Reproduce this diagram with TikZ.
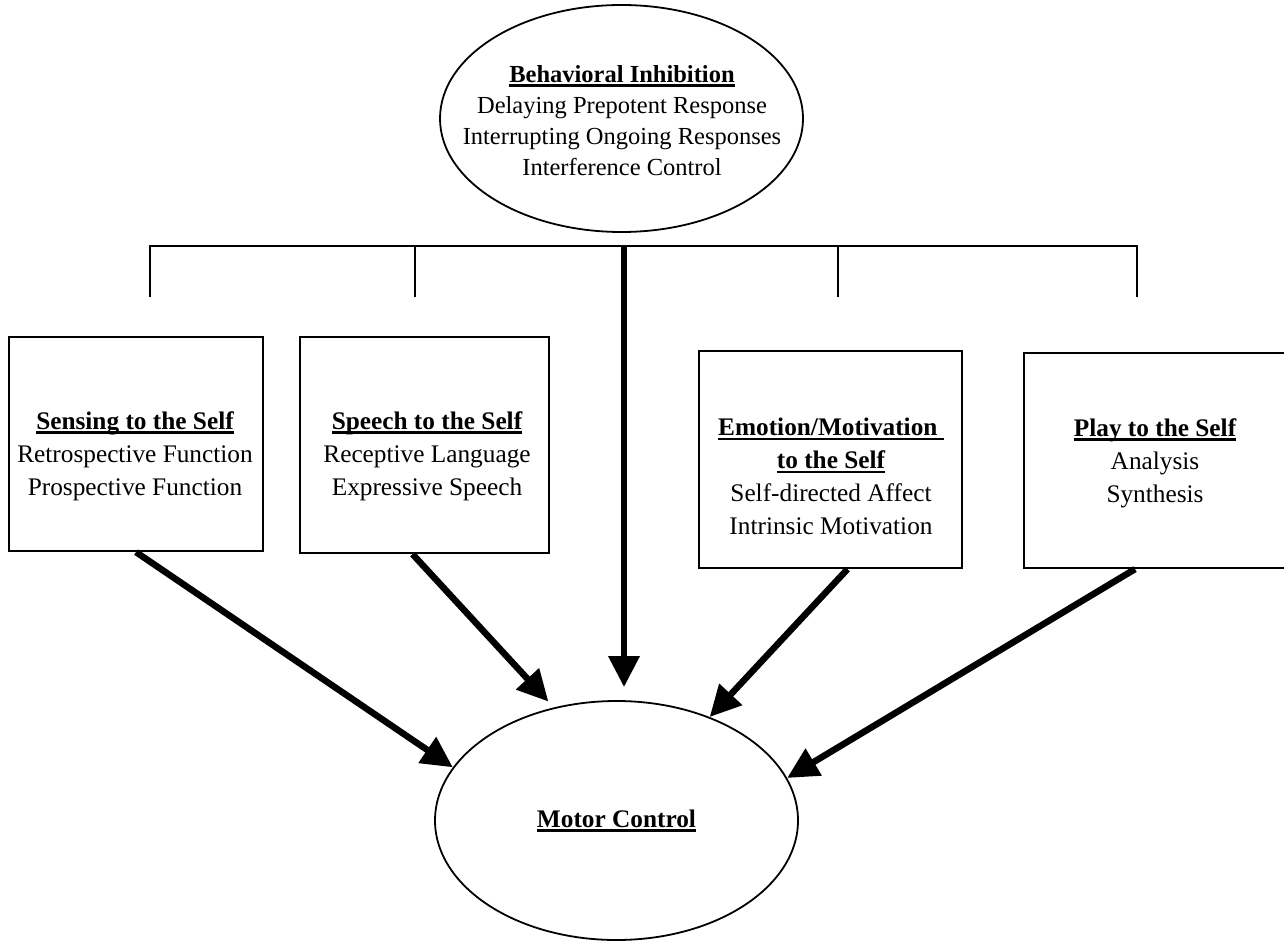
\documentclass[tikz,border=0pt]{standalone}
\usepackage{fontspec}
\setmainfont{Liberation Serif}
\usetikzlibrary{arrows.meta,shapes.geometric,calc}
\newcommand\hdul[1]{\setbox0\hbox{#1}\rlap{\rule[-4.5pt]{\wd0}{2.4pt}}\box0}
\tikzset{
  thinline/.style={line width=2.2pt},
  boxst/.style={draw, rectangle, line width=2.2pt, inner sep=0pt},
  ellst/.style={draw, ellipse, line width=1.8pt, inner sep=0pt},
  bodytext/.style={align=center, inner sep=0pt, font=\fontsize{25.3}{33}\selectfont},
  ovaltext/.style={align=center, inner sep=0pt, font=\fontsize{24.5}{31}\selectfont},
  bigarrow/.style={line width=6.5pt, -{Triangle[length=31pt,width=30pt]}}
}
\begin{document}
\begin{tikzpicture}[x=1pt,y=-1pt]
\useasboundingbox (0,0) rectangle (1284,941);
\fill[white] (0,0) rectangle (1284,941);

% top oval
\node[ellst, minimum width=363pt, minimum height=227pt] (bi) at (621.5,118.5) {};
\node[ovaltext, anchor=north] (bit) at (622,65) {\textbf{\hdul{Behavioral Inhibition}}\\Delaying Prepotent Response\\Interrupting Ongoing Responses\\Interference Control};

% branching bar
\coordinate (j1) at (150,246); \coordinate (k1) at (150,297);
\coordinate (j2) at (415,246); \coordinate (k2) at (415,297);
\coordinate (j3) at (624,246);
\coordinate (j4) at (838,246); \coordinate (k4) at (838,297);
\coordinate (j5) at (1137,246); \coordinate (k5) at (1137,297);
\draw[thinline] (k1) -- (j1) -- (j5) -- (k5);
\draw[thinline] (j2) -- (k2);
\draw[thinline] (j4) -- (k4);

% boxes
\node[boxst, minimum width=254pt, minimum height=214pt] (b1) at (136,444) {};
\node[boxst, minimum width=249pt, minimum height=216pt] (b2) at (424.5,445) {};
\node[boxst, minimum width=263pt, minimum height=217pt] (b3) at (830.5,459.5) {};
\node[boxst, minimum width=262pt, minimum height=215pt] (b4) at (1155,460.5) {};

\node[bodytext, anchor=north] (t1) at (135,411) {\textbf{\hdul{Sensing to the Self}}\\Retrospective Function\\Prospective Function};
\node[bodytext, anchor=north] (t2) at (427,411) {\textbf{\hdul{Speech to the Self}}\\Receptive Language\\Expressive Speech};
\node[bodytext, anchor=north] (t3) at (831,418) {\textbf{\hdul{Emotion/Motivation\ }}\\\textbf{\hdul{to the Self}}\\Self-directed Affect\\Intrinsic Motivation};
\node[bodytext, anchor=north] (t4) at (1155,418) {\textbf{\hdul{Play to the Self}}\\Analysis\\Synthesis};

% bottom oval
\node[ellst, bodytext, minimum width=363pt, minimum height=239pt] (mc) at (616.5,820.5) {\textbf{\hdul{Motor Control}}};

% arrows
\draw[bigarrow] (b1.south) -- (mc.162);
\draw[bigarrow, shorten >=8pt] ([xshift=-12pt]b2.south) -- (mc.119);
\draw[bigarrow, shorten >=13pt] (j3) -- (j3 |- mc.north);
\draw[bigarrow] ([xshift=17pt]b3.south) -- (mc.48);
\draw[bigarrow] ([xshift=-20pt]b4.south) -- (mc.14);
\end{tikzpicture}
\end{document}
